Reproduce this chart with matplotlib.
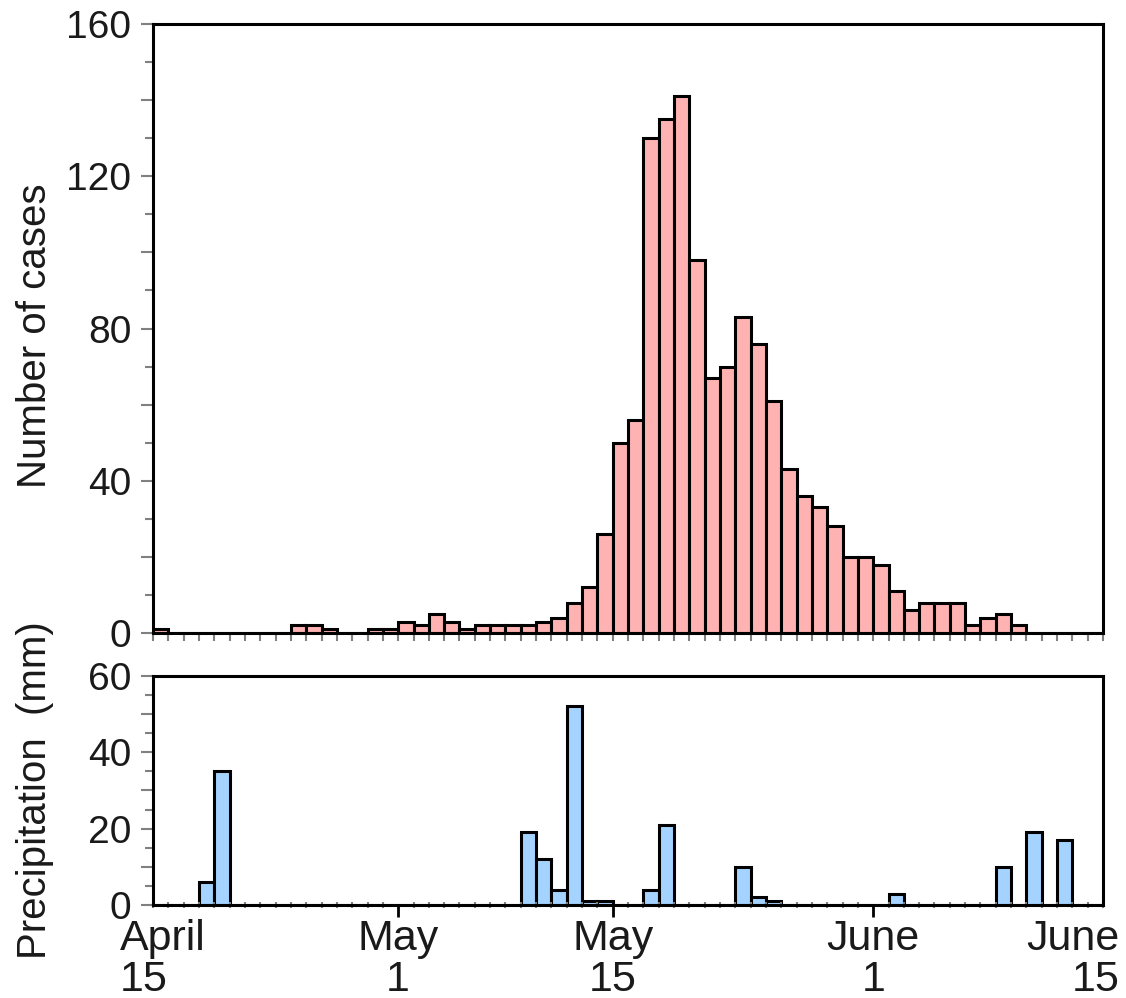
import matplotlib
matplotlib.use("Agg")
import matplotlib.pyplot as plt
from matplotlib.ticker import MultipleLocator, FixedLocator, FuncFormatter


plt.rcParams['font.family'] = ['Liberation Sans', 'DejaVu Sans']

# daily counts, day 0 = April 15
cases = [1, 0, 0, 0, 0, 0, 0, 0, 0,
         2, 2, 1, 0, 0, 1, 1, 3, 2, 5, 3, 1, 2, 2, 2, 2, 3, 4, 8, 12,
         26, 50, 56, 130, 135, 141, 98, 67, 70, 83, 76, 61, 43, 36, 33,
         28, 20, 20, 18, 11, 6, 8, 8, 8, 2, 4, 5, 2,
         0, 0, 0, 0, 0]

# daily rainfall in mm, same days
precip = [0, 0, 0, 6, 35,
          0, 0, 0, 0, 0, 0, 0, 0, 0, 0, 0, 0, 0, 0, 0, 0, 0, 0, 0,
          19, 12, 4, 52, 1, 1, 0, 0, 4, 21, 0, 0, 0, 0, 10, 2, 1,
          0, 0, 0, 0, 0, 0, 0, 3, 0, 0, 0, 0, 0, 0, 10, 0, 19, 0, 17,
          0, 0]

days = list(range(len(cases)))

date_pos = [0, 16, 30, 47, 62]
date_labels = ["April\n15", "May\n1", "May\n15", "June\n1", "June\n15"]

PINK = "#FFB2B2"
BLUE = "#A4D3FF"
TICK_GRAY = "#808080"
EDGE_W = 2.2


def style_panel(ax, ymax, major_step, label_step, minor_step):
	for side in ax.spines:
		ax.spines[side].set_linewidth(EDGE_W)
		ax.spines[side].set_color("black")
	ax.set_xlim(0, 62)
	ax.set_ylim(0, ymax)
	ax.yaxis.set_major_locator(MultipleLocator(major_step))
	ax.yaxis.set_minor_locator(MultipleLocator(minor_step))
	ax.yaxis.set_major_formatter(FuncFormatter(
		lambda v, p: f"{v:.0f}" if round(v) % label_step == 0 else ""))
	ax.tick_params(axis="y", which="major", length=8.6, width=1.5,
	               color=TICK_GRAY, labelsize=28, pad=7, labelcolor="#1a1a1a")
	ax.tick_params(axis="y", which="minor", length=5.8, width=1.5,
	               color=TICK_GRAY)
	ax.xaxis.set_minor_locator(MultipleLocator(1))


fig = plt.figure(figsize=(11.26, 9.98), dpi=100)
ax_top = fig.add_axes([0.1359, 0.3657, 0.8437, 0.6102])
ax_bot = fig.add_axes([0.1359, 0.0932, 0.8437, 0.2295])

ax_top.bar(days, cases, width=1, align="edge", color=PINK,
           edgecolor="black", linewidth=EDGE_W)
style_panel(ax_top, 160, 20, 40, 10)
ax_top.xaxis.set_major_locator(FixedLocator([]))
ax_top.tick_params(axis="x", which="minor", direction="out", length=5.5,
                   width=1.5, color=TICK_GRAY, labelbottom=False)

ax_bot.bar(days, precip, width=1, align="edge", color=BLUE,
           edgecolor="black", linewidth=EDGE_W)
style_panel(ax_bot, 60, 10, 20, 5)
ax_bot.xaxis.set_major_locator(FixedLocator(date_pos[1:-1]))
ax_bot.tick_params(axis="x", which="major", direction="out", length=8.5,
                   width=2, color="black", labelbottom=False)
ax_bot.tick_params(axis="x", which="minor", direction="inout", length=5,
                   width=1.5, color=TICK_GRAY)

# date labels; the end ones are pushed inside the figure edges
for i, (pos, lab) in enumerate(zip(date_pos, date_labels)):
	ha, dx = "center", 0
	if i == 0:
		ha, dx = "left", -24
	elif i == len(date_pos) - 1:
		ha, dx = "right", 12
	ax_bot.annotate(lab, xy=(pos, 0), xycoords=("data", "axes fraction"),
	                xytext=(dx, -10), textcoords="offset points",
	                ha=ha, va="top", fontsize=31, linespacing=1.05,
	                color="#1a1a1a", annotation_clip=False)

fig.text(0.031, 0.664, "Number of cases", rotation=90, ha="center",
         va="center", fontsize=29, color="#1a1a1a")
fig.text(0.031, 0.208, "Precipitation  (mm)", rotation=90, ha="center",
         va="center", fontsize=29, color="#1a1a1a")

fig.savefig("out.png", dpi=100)
